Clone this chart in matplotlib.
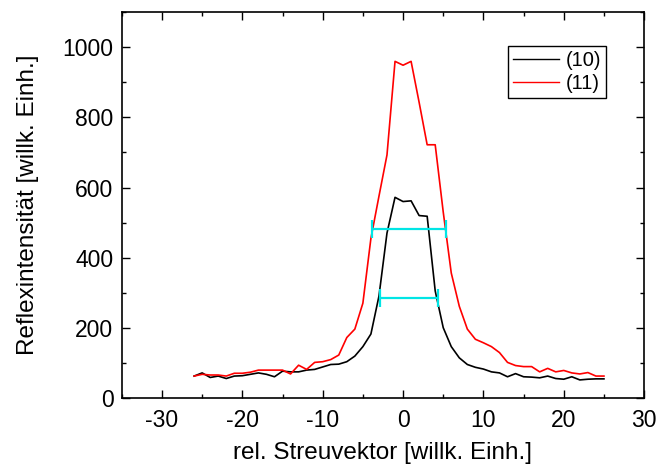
"""Reflexprofile (10) und (11) mit Halbwertsbreiten."""
import matplotlib
matplotlib.use("Agg")
import matplotlib.pyplot as plt
from matplotlib.ticker import MultipleLocator

plt.rcParams["font.family"] = ["Liberation Sans", "DejaVu Sans"]
plt.rcParams["axes.unicode_minus"] = False

# Streuvektor-Raster (willk. Einh.)
q = list(range(-26, 26))

# Reflex (10)
int_10 = [62, 71, 58, 62, 55, 62, 63, 67, 71, 67, 60, 76, 74, 74, 79, 81, 88,
          95, 96, 103, 119, 146, 182, 290, 470, 572, 560, 562, 520, 518, 305,
          200, 146, 114, 95, 87, 82, 74, 71, 60, 69, 60, 59, 57, 62, 55, 53,
          60, 51, 53, 54, 54]

# Reflex (11)
int_11 = [62, 67, 65, 65, 62, 70, 70, 73, 79, 79, 79, 79, 68, 93, 81, 101, 103,
          109, 122, 172, 196, 270, 455, 575, 693, 960, 949, 960, 843, 722, 722,
          530, 356, 261, 196, 167, 157, 146, 129, 101, 92, 89, 89, 74, 84, 74,
          78, 71, 68, 72, 62, 62]

# Halbwertsbreiten (links, rechts, Höhe)
fwhm_left = [-3.85, -2.9]
fwhm_right = [5.35, 4.3]
fwhm_level = [482, 286]

fig = plt.figure(figsize=(6.62, 4.73), dpi=100)
ax = fig.add_axes([0.184, 0.159, 0.789, 0.815])

l10, = ax.plot(q, int_10, color="black", lw=1.2, label="(10)")
l11, = ax.plot(q, int_11, color="red", lw=1.2, label="(11)")

for xl, xr, y in zip(fwhm_left, fwhm_right, fwhm_level):
    ax.errorbar((xl + xr) / 2, y, xerr=(xr - xl) / 2, fmt="none",
                ecolor="#00e5e5", elinewidth=1.6, capsize=6.5, capthick=1.6)

ax.set_xlim(-35, 30)
ax.set_ylim(0, 1100)
ax.xaxis.set_major_locator(MultipleLocator(10))
ax.xaxis.set_minor_locator(MultipleLocator(5))
ax.yaxis.set_major_locator(MultipleLocator(200))
ax.yaxis.set_minor_locator(MultipleLocator(100))
ax.tick_params(which="both", direction="in", top=True, right=True, width=1.0)
ax.tick_params(which="major", length=5.5, labelsize=16.5)
ax.tick_params(which="minor", length=3)
ax.tick_params(axis="x", pad=8)
ax.tick_params(axis="y", pad=6)
for s in ax.spines.values():
    s.set_linewidth(1.2)

ax.set_xlabel("rel. Streuvektor [willk. Einh.]", fontsize=17.5, labelpad=7)
ax.set_ylabel("Reflexintensität [willk. Einh.]", fontsize=17.5, labelpad=17)

leg = ax.legend(handles=[l10, l11], loc="upper right",
                bbox_to_anchor=(0.927, 0.913), fontsize=14.5, frameon=True,
                fancybox=False, edgecolor="black", framealpha=1,
                handlelength=2.3, handletextpad=0.3, borderpad=0.25,
                labelspacing=0.2, borderaxespad=0)
leg.get_frame().set_linewidth(1.0)
for h in leg.legend_handles:
    h.set_linewidth(1.0)

fig.savefig("out.png", dpi=100)
